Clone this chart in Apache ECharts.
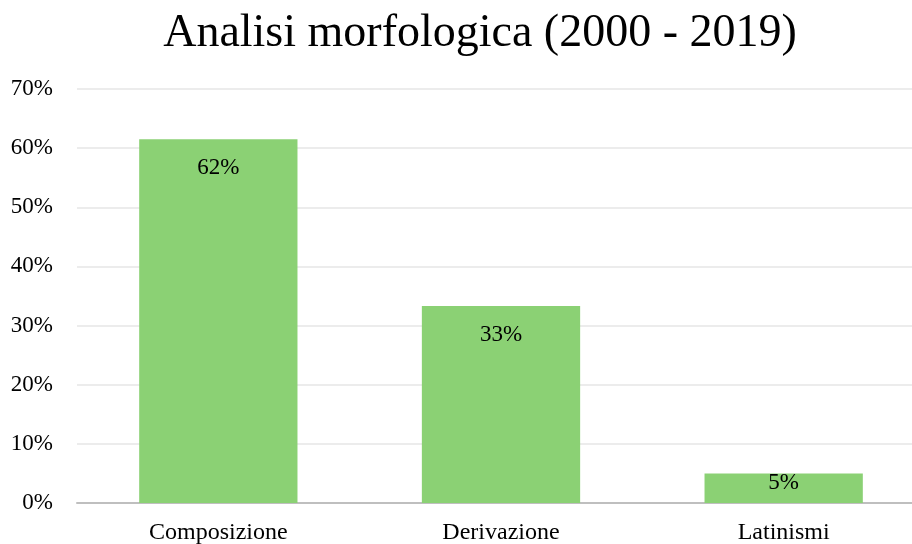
<!DOCTYPE html>
<html lang="it">
<head>
    <meta charset="UTF-8">
    <title>Analisi morfologica</title>
    <script src="https://cdn.jsdelivr.net/npm/echarts@6/dist/echarts.min.js"></script>
</head>
<body style="margin:0">
<div id="main" style="width: 912px;height:544px;"></div>
<script type="text/javascript">
    var categories = ['Composizione', 'Derivazione', 'Latinismi'];
    var values = [61.5, 33.3, 5.0];
    var labels = ['62%', '33%', '5%'];

    var chartDom = document.getElementById('main');
    var myChart = echarts.init(chartDom);
    var font = '"Liberation Serif", "Times New Roman", serif';
    var option;

    // short bar: label sits right at the top edge
    var barData = values.map(function (v, i) {
        if (v < 10) {
            return { value: v, label: { distance: -2 } };
        }
        return v;
    });

    option = {
        backgroundColor: '#ffffff',
        textStyle: { fontFamily: font },
        title: {
            text: 'Analisi morfologica (2000 - 2019)',
            left: 475,
            textAlign: 'center',
            top: 6,
            textStyle: { fontFamily: font, fontSize: 46, fontWeight: 'normal', color: '#000' }
        },
        grid: { left: 77, width: 848, top: 89, bottom: 41, outerBoundsMode: 'none' },
        xAxis: {
            type: 'category',
            data: categories,
            axisLine: { lineStyle: { color: '#bfbfbf', width: 2 } },
            axisTick: { show: false },
            axisLabel: { fontFamily: font, fontSize: 24, color: '#000', margin: 18 }
        },
        yAxis: {
            type: 'value',
            min: 0,
            max: 70,
            interval: 10,
            axisLine: { show: false },
            axisTick: { show: false },
            splitLine: { lineStyle: { color: '#ececec', width: 2 } },
            axisLabel: {
                fontFamily: font, fontSize: 23, color: '#000', margin: 24,
                padding: [4, 0, 0, 0],
                formatter: function (v) { return v + '%'; }
            }
        },
        series: [
            {
                type: 'bar',
                data: barData,
                barCategoryGap: '44%',
                itemStyle: { color: '#8bd174' },
                label: {
                    show: true,
                    position: 'insideTop',
                    distance: 17,
                    fontFamily: font,
                    fontSize: 23,
                    color: '#000',
                    formatter: function (p) { return labels[p.dataIndex]; }
                }
            }
        ]
    };

    option && myChart.setOption(option);
</script>
</body>
</html>
